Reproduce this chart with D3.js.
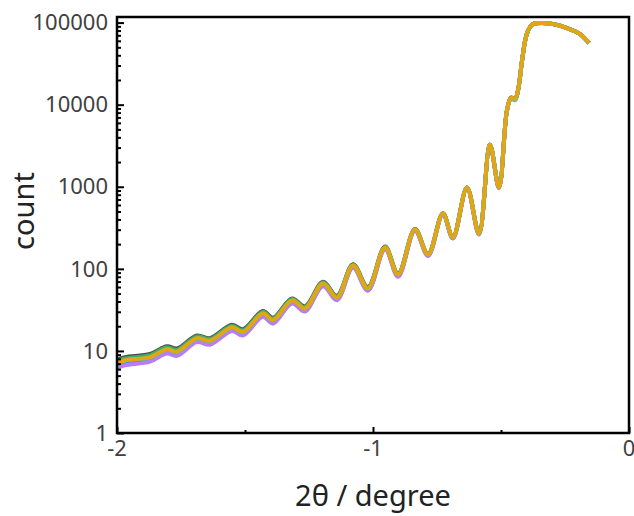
<!DOCTYPE html>
<html>
<head>
<meta charset="utf-8">
<script src="https://cdn.jsdelivr.net/npm/d3@7"></script>
<style>
  body { margin: 0; background: #fff; }
  text { font-family: "Noto Sans", "Open Sans", sans-serif; }
</style>
</head>
<body>
<svg></svg>
<script>
// angle positions (2theta, degree), shared by every scan
const angles = [-2.000, -1.969, -1.871, -1.805, -1.766, -1.688, -1.637, -1.551, -1.508, -1.430,
                -1.391, -1.316, -1.266, -1.195, -1.141, -1.078, -1.020, -0.953, -0.902, -0.836,
                -0.785, -0.727, -0.688, -0.633, -0.586, -0.543, -0.508, -0.477, -0.461, -0.445,
                -0.434, -0.418, -0.406, -0.395, -0.375, -0.348, -0.297, -0.242, -0.191, -0.156];

const grayCounts = [7.8, 8.4, 9.2, 11.4, 10.7, 15.4, 14.3, 20.8, 18.4, 30.6,
                    25.4, 43.6, 34.9, 69.5, 47.0, 114, 60.0, 187, 88, 306,
                    152, 476, 244, 980, 271, 3260, 980, 8450, 12200, 11800,
                    14800, 34200, 59800, 79000, 96000, 98700, 96000, 85800, 72500, 56400];
const redCounts = [6.9, 7.5, 8.2, 10.2, 9.5, 13.9, 12.8, 18.9, 16.5, 28.0,
                   23.0, 40.4, 31.8, 65.0, 43.2, 108, 55.5, 180, 83, 298,
                   147, 468, 237, 970, 265, 3240, 970, 8400, 12100, 11700,
                   14700, 34000, 59600, 78900, 95900, 98600, 95900, 85700, 72400, 56300];
const blueCounts = [6.7, 7.3, 8.0, 10.0, 9.3, 13.7, 12.7, 18.6, 16.3, 27.6,
                    22.8, 40.0, 31.6, 64.2, 43.0, 107, 55.0, 179, 82.5, 297,
                    146, 466, 236, 968, 264, 3235, 968, 8400, 12050, 11650,
                    14650, 33900, 59550, 78850, 95850, 98550, 95850, 85650, 72350, 56250];
const greenCounts = [7.5, 8.1, 8.9, 11.1, 10.3, 15.0, 14.0, 20.3, 17.9, 29.9,
                     24.8, 42.8, 34.2, 68.5, 46.2, 112, 59.0, 184, 86.5, 303,
                     151, 473, 242, 978, 270, 3250, 978, 8420, 12000, 11500,
                     14600, 34000, 59600, 78900, 95900, 98600, 95900, 85700, 72400, 56300];
const purpleCounts = [6.2, 6.7, 7.4, 9.3, 8.7, 12.8, 11.9, 17.5, 15.4, 26.0,
                      21.5, 37.8, 30.2, 61.5, 41.5, 103, 54, 172, 80, 290,
                      143, 460, 234, 960, 262, 3220, 960, 8380, 12000, 11600,
                      14600, 33800, 59500, 78800, 95800, 98500, 95800, 85600, 72300, 56200];
const cyanCounts = [7.0, 7.6, 8.3, 10.4, 9.7, 14.2, 13.2, 19.2, 16.9, 28.5,
                    23.6, 41.0, 32.8, 66.0, 44.6, 109, 57.4, 181, 85, 300,
                    149, 470, 240, 972, 268, 3240, 972, 8400, 11800, 11300,
                    14500, 33900, 59500, 78800, 95800, 98500, 95800, 85600, 72300, 56200];
const orangeCounts = [7.1, 7.7, 8.4, 10.5, 9.8, 14.3, 13.3, 19.4, 17.1, 28.7,
                      23.8, 41.3, 33.0, 66.5, 44.9, 110, 57.8, 182, 85.5, 301,
                      150, 471, 241, 975, 269, 3245, 975, 8410, 12100, 11750,
                      14700, 34000, 59600, 78900, 95900, 98600, 95900, 85700, 72400, 56300];

const seriesNames = ['gray', 'red', 'blue', 'green', 'purple', 'cyan', 'orange'];
const seriesColors = ['#4d4d4d', '#e8433a', '#4a7bef', '#3aae6a', '#b97cf2', '#3fc4cc', '#e3a60e'];
const seriesCounts = [grayCounts, redCounts, blueCounts, greenCounts, purpleCounts, cyanCounts, orangeCounts];

const xMajorTicks = [-2, -1, 0];
const xMinorTicks = [-1.5, -0.5];
const yMajorTicks = [1, 10, 100, 1000, 10000, 100000];

const width = 634, height = 516;
const plotLeft = 117, plotRight = 629, plotTop = 17, plotBottom = 433;

const svg = d3.select('svg')
    .attr('width', width)
    .attr('height', height);

const xScale = d3.scaleLinear()
    .domain([-2, 0])
    .range([plotLeft, plotRight]);

const yScale = d3.scaleLog()
    .domain([1, 117000])
    .range([plotBottom, plotTop]);

// minor log ticks 2..9 of each decade
let yMinorTicks = [];
yScale.ticks().forEach(t => {
    if (yMajorTicks.indexOf(t) < 0 && t < 117000) yMinorTicks.push(t);
});

// scans
const line = d3.line()
    .x(d => xScale(d[0]))
    .y(d => yScale(d[1]))
    .curve(d3.curveCatmullRom);

seriesCounts.forEach((counts, i) => {
    svg.append('path')
        .datum(angles.map((a, j) => [a, counts[j]]))
        .attr('class', 'scan ' + seriesNames[i])
        .attr('d', line)
        .attr('fill', 'none')
        .attr('stroke', seriesColors[i])
        .attr('stroke-width', 4)
        .attr('stroke-linejoin', 'round');
});

// frame
svg.append('rect')
    .attr('x', plotLeft).attr('y', plotTop)
    .attr('width', plotRight - plotLeft).attr('height', plotBottom - plotTop)
    .attr('fill', 'none')
    .attr('stroke', 'black')
    .attr('stroke-width', 2.5);

// y axis, ticks pointing inside
let yAxis = d3.axisRight(yScale)
    .tickValues(yMajorTicks)
    .tickSize(7)
    .tickSizeOuter(0)
    .tickFormat('');
svg.append('g')
    .attr('transform', `translate(${plotLeft},0)`)
    .call(yAxis)
    .call(g => g.select('.domain').remove())
    .call(g => g.selectAll('line').attr('stroke-width', 2));

let yAxisMinor = d3.axisRight(yScale)
    .tickValues(yMinorTicks)
    .tickSize(4)
    .tickSizeOuter(0)
    .tickFormat('');
svg.append('g')
    .attr('transform', `translate(${plotLeft},0)`)
    .call(yAxisMinor)
    .call(g => g.select('.domain').remove())
    .call(g => g.selectAll('line').attr('stroke-width', 2));

svg.append('g')
    .selectAll('text')
    .data(yMajorTicks)
    .enter()
    .append('text')
        .attr('x', plotLeft - 9)
        .attr('y', d => yScale(d))
        .attr('dy', '0.35em')
        .attr('text-anchor', 'end')
        .attr('font-size', 22)
        .attr('fill', '#404040')
        .text(d => d);

// x axis, ticks pointing inside
let xAxis = d3.axisTop(xScale)
    .tickValues(xMajorTicks)
    .tickSize(6)
    .tickSizeOuter(0)
    .tickFormat('');
svg.append('g')
    .attr('transform', `translate(0,${plotBottom})`)
    .call(xAxis)
    .call(g => g.select('.domain').remove())
    .call(g => g.selectAll('line').attr('stroke-width', 2));

let xAxisMinor = d3.axisTop(xScale)
    .tickValues(xMinorTicks)
    .tickSize(3)
    .tickSizeOuter(0)
    .tickFormat('');
svg.append('g')
    .attr('transform', `translate(0,${plotBottom})`)
    .call(xAxisMinor)
    .call(g => g.select('.domain').remove())
    .call(g => g.selectAll('line').attr('stroke-width', 2));

svg.append('g')
    .selectAll('text')
    .data(xMajorTicks)
    .enter()
    .append('text')
        .attr('x', d => xScale(d))
        .attr('y', plotBottom + 23)
        .attr('text-anchor', 'middle')
        .attr('font-size', 22)
        .attr('fill', '#404040')
        .text(d => d === 0 ? '0' : '-' + Math.abs(d));

// axis titles
svg.append('text')
    .text('2θ / degree')
    .attr('x', xScale(-1))
    .attr('y', 506)
    .attr('text-anchor', 'middle')
    .attr('font-size', 29)
    .attr('fill', '#222');

svg.append('text')
    .text('count')
    .attr('transform', `translate(34,211) rotate(-90)`)
    .attr('text-anchor', 'middle')
    .attr('font-size', 29)
    .attr('fill', '#222');
</script>
</body>
</html>
